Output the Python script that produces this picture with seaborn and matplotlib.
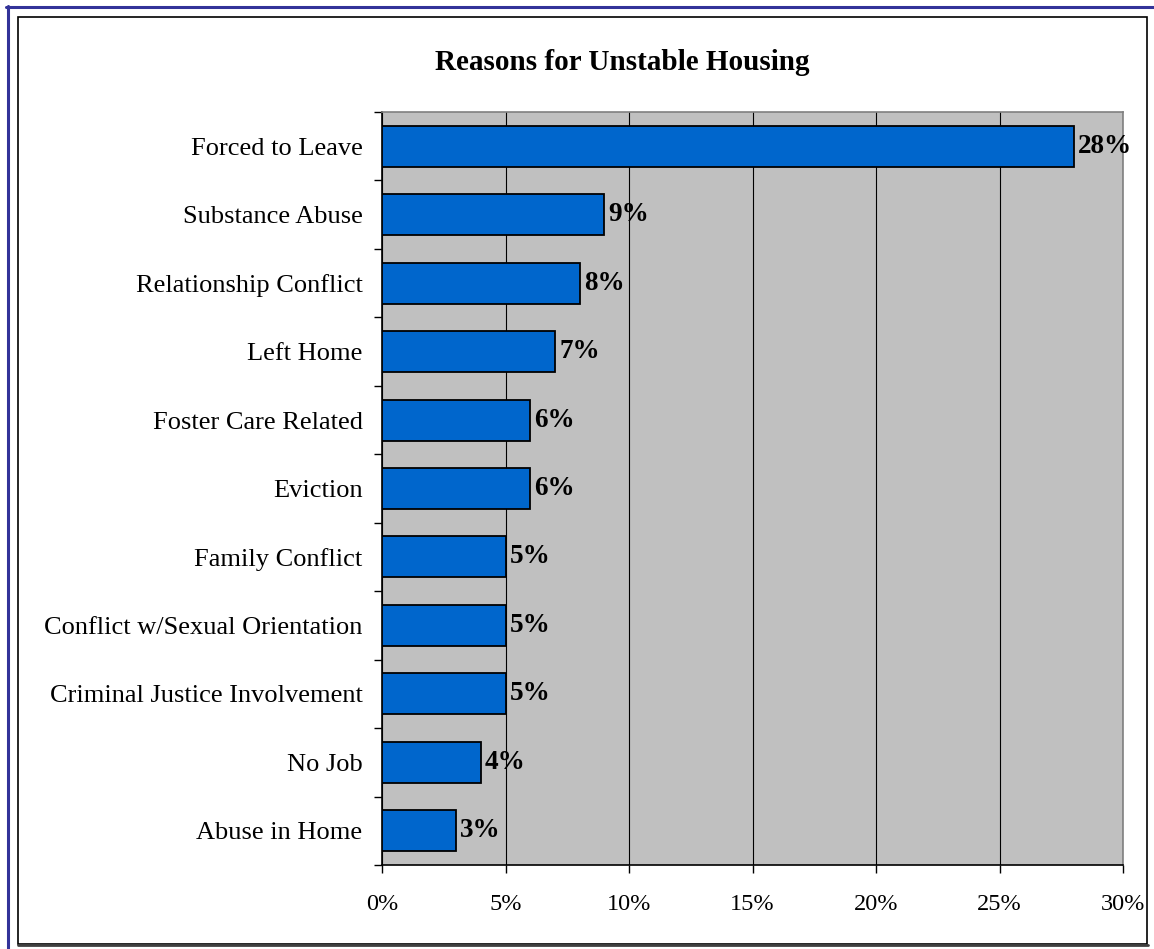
import numpy as np
import matplotlib

matplotlib.use("Agg")
import matplotlib.pyplot as plt
from matplotlib.patches import Rectangle
from matplotlib.lines import Line2D
import seaborn as sns

categories = [
    "Forced to Leave",
    "Substance Abuse",
    "Relationship Conflict",
    "Left Home",
    "Foster Care Related",
    "Eviction",
    "Family Conflict",
    "Conflict w/Sexual Orientation",
    "Criminal Justice Involvement",
    "No Job",
    "Abuse in Home",
]
values = [28, 9, 8, 7, 6, 6, 5, 5, 5, 4, 3]
x_ticks = [0, 5, 10, 15, 20, 25, 30]
title = "Reasons for Unstable Housing"

sns.set_style("white")
plt.rcParams["font.family"] = ["Liberation Serif", "DejaVu Serif"]
plt.rcParams["text.color"] = "black"
plt.rcParams["xtick.color"] = "black"
plt.rcParams["ytick.color"] = "black"
plt.rcParams["xtick.labelcolor"] = "black"
plt.rcParams["ytick.labelcolor"] = "black"

W, H = 1154, 949
fig = plt.figure(figsize=(W / 100, H / 100), dpi=100)
ax = fig.add_axes([382 / W, 1 - 865 / H, (1123 - 382) / W, (865 - 112) / H])
ax.set_facecolor("#C0C0C0")

sns.barplot(
    x=values, y=categories, orient="h", color="#0066CC", saturation=1,
    edgecolor="black", linewidth=1.3, width=0.6, ax=ax, zorder=3,
)

ax.set_xlim(0, 30)
ax.set_ylim(len(categories) - 0.5, -0.5)
ax.set_xticks(x_ticks)
ax.set_xticklabels([f"{t}%" for t in x_ticks], fontsize=17.5, color="black")
ax.set_yticks(range(len(categories)))
ax.set_yticklabels(categories, fontsize=19, color="black")
ax.set_yticks(np.arange(-0.5, len(categories), 1), minor=True)
ax.tick_params(axis="y", which="major", length=0, pad=14)
ax.tick_params(axis="y", which="minor", length=6, width=1, color="black", direction="out", left=True)
ax.tick_params(axis="x", length=6, width=1, color="black", direction="out", bottom=True, pad=15)
ax.set_xlabel("")
ax.set_ylabel("")

ax.grid(axis="x", color="black", linewidth=0.8, zorder=1)
ax.grid(axis="y", visible=False)
ax.set_axisbelow(True)

for side in ["left", "bottom"]:
    ax.spines[side].set_color("black")
    ax.spines[side].set_linewidth(1.2)
for side in ["top", "right"]:
    ax.spines[side].set_color("#808080")
    ax.spines[side].set_linewidth(1.2)

ax.bar_label(ax.containers[0], labels=[f"{v}%" for v in values],
             padding=3, fontsize=19.5, fontweight="bold", color="black")

fig.text(622 / W, 1 - 63 / H, title, ha="center", va="center",
         fontsize=21, fontweight="bold", color="black")

# chart frame and page border
fig.add_artist(Rectangle((18 / W, 1 - 944 / H), (1147 - 18) / W, (944 - 17) / H,
                         fill=False, edgecolor="black", linewidth=1.2,
                         transform=fig.transFigure))
fig.add_artist(Line2D([18 / W, 1148 / W], [1 - 944.5 / H, 1 - 944.5 / H],
                      color="#404040", linewidth=2, transform=fig.transFigure))
fig.add_artist(Line2D([7.5 / W, 7.5 / W], [0, 1 - 6 / H],
                      color="#333399", linewidth=2.2, transform=fig.transFigure))
fig.add_artist(Line2D([6 / W, 1], [1 - 6.5 / H, 1 - 6.5 / H],
                      color="#333399", linewidth=2.2, transform=fig.transFigure))

fig.savefig("out.png", dpi=100)
